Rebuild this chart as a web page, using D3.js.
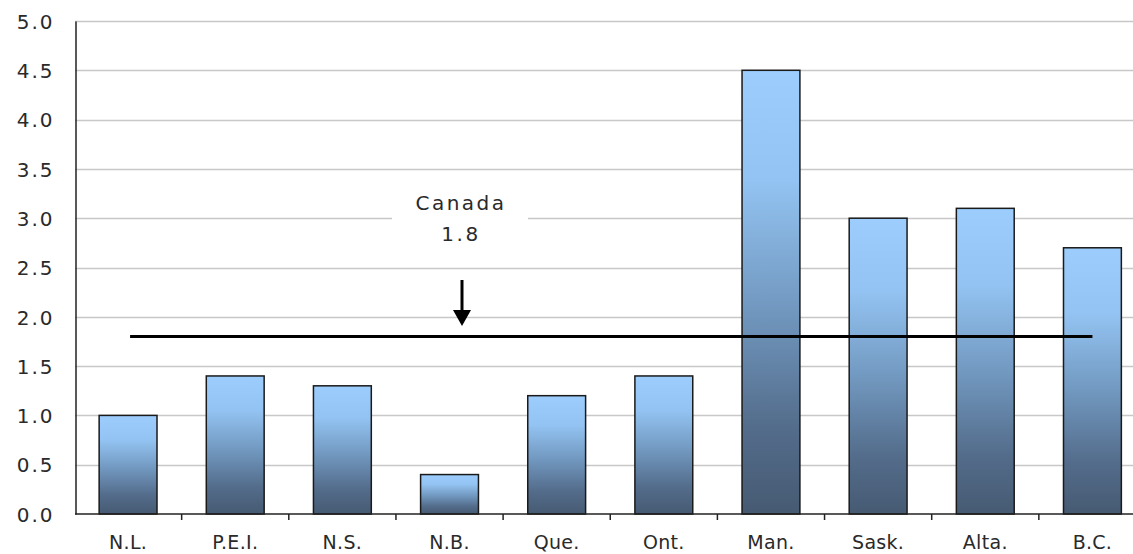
<!DOCTYPE html>
<html>
<head>
<meta charset="utf-8">
<script src="https://cdn.jsdelivr.net/npm/d3@7"></script>
<style>
  html, body { margin: 0; padding: 0; background: #fff; }
  svg { display: block; }
  text { font-family: "DejaVu Sans", Verdana, sans-serif; fill: #2a2a2a; }
</style>
</head>
<body>
<svg id="chart" width="1133" height="554"></svg>
<script>
// Provincial values
const provinces = ["N.L.", "P.E.I.", "N.S.", "N.B.", "Que.", "Ont.", "Man.", "Sask.", "Alta.", "B.C."];
const values = [1.0, 1.4, 1.3, 0.4, 1.2, 1.4, 4.5, 3.0, 3.1, 2.7];
const yTicks = [0, 0.5, 1.0, 1.5, 2.0, 2.5, 3.0, 3.5, 4.0, 4.5, 5.0];
const canadaLabel = ["Canada", "1.8"];
const canadaValue = 1.8;

const svg = d3.select("#chart");

const x = d3.scaleBand().domain(provinces).range([74.5, 1146]).paddingInner(0.46).paddingOuter(0.23);
const band = d3.scaleBand().domain(provinces).range([74.5, 1146]);
const y = d3.scaleLinear().domain([0, 5]).range([514, 21]);

// Bar gradient
const defs = svg.append("defs");
const grad = defs.append("linearGradient").attr("id", "barGrad")
  .attr("x1", 0).attr("y1", 0).attr("x2", 0).attr("y2", 1);
[["0%", "#9ccdfd"], ["25%", "#93c3f2"], ["55%", "#7096bd"], ["80%", "#546d8c"], ["100%", "#465a72"]]
  .forEach(([o, c]) => grad.append("stop").attr("offset", o).attr("stop-color", c));

// Gridlines
svg.append("g").selectAll("line").data(yTicks.filter(d => d > 0)).join("line")
  .attr("x1", 75).attr("x2", 1133)
  .attr("y1", d => Math.round(y(d)) + 0.5).attr("y2", d => Math.round(y(d)) + 0.5)
  .attr("stroke", "#c8c8c8").attr("stroke-width", 1.5);

// Y axis
const yAxis = svg.append("g").attr("transform", "translate(75.5,0)")
  .call(d3.axisLeft(y).tickValues(yTicks).tickFormat(d3.format(".1f")).tickSize(0).tickPadding(21));
yAxis.select(".domain").attr("stroke", "#222").attr("stroke-width", 1.5);
yAxis.selectAll("text").attr("font-size", 20).attr("letter-spacing", 2).attr("fill", "#333")
  .attr("dy", "0.36em");

// Bars
svg.append("g").selectAll("rect").data(values).join("rect")
  .attr("x", (d, i) => x(provinces[i]))
  .attr("width", x.bandwidth())
  .attr("y", d => y(d))
  .attr("height", d => y(0) - y(d))
  .attr("fill", "url(#barGrad)")
  .attr("stroke", "#1a1a1a").attr("stroke-width", 1.5);

// X axis with ticks between categories
const xg = svg.append("g").attr("transform", `translate(0,${y(0)})`);
xg.append("line").attr("x1", 75).attr("x2", 1133).attr("stroke", "#222").attr("stroke-width", 1.5);
xg.selectAll("line.tick").data(provinces.slice(1)).join("line").attr("class", "tick")
  .attr("x1", d => band(d)).attr("x2", d => band(d))
  .attr("y1", 0).attr("y2", 6).attr("stroke", "#222").attr("stroke-width", 1.5);
xg.selectAll("text").data(provinces).join("text")
  .attr("x", d => band(d) + band.bandwidth() / 2)
  .attr("y", 35).attr("text-anchor", "middle").attr("font-size", 19).attr("letter-spacing", 0.3)
  .attr("fill", "#333")
  .text(d => d);

// Canada average line
svg.append("line")
  .attr("x1", band(provinces[0]) + band.bandwidth() / 2 + 2)
  .attr("x2", band(provinces[provinces.length - 1]) + band.bandwidth() / 2)
  .attr("y1", y(canadaValue)).attr("y2", y(canadaValue))
  .attr("stroke", "#000").attr("stroke-width", 3);

// Annotation
const ax = 460;
svg.append("rect").attr("x", ax - 68).attr("y", 188).attr("width", 136).attr("height", 56).attr("fill", "#fff");
svg.append("g").selectAll("text").data(canadaLabel).join("text")
  .attr("x", ax + 1).attr("y", (d, i) => 210 + i * 31)
  .attr("text-anchor", "middle").attr("font-size", 20).attr("letter-spacing", 2.5)
  .attr("fill", "#333")
  .text(d => d);
svg.append("line").attr("x1", ax + 2).attr("x2", ax + 2).attr("y1", 280).attr("y2", 312)
  .attr("stroke", "#000").attr("stroke-width", 3);
svg.append("path").attr("d", `M${ax - 7},310 L${ax + 11},310 L${ax + 2},326 Z`).attr("fill", "#000");
</script>
</body>
</html>
